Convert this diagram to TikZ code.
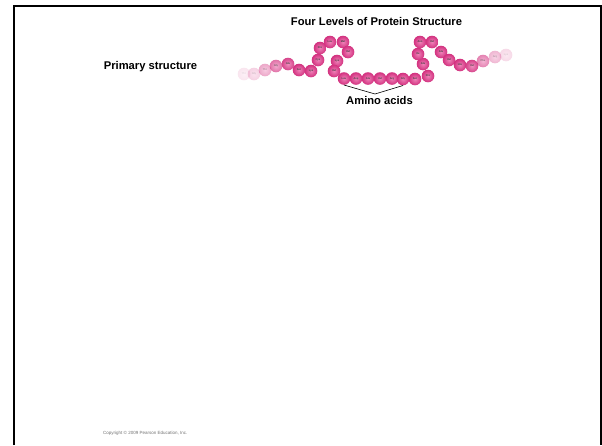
\documentclass[tikz,border=0pt]{standalone}
\usepackage{fontspec}
\setmainfont{Liberation Sans}
\begin{document}
\definecolor{beadpink}{RGB}{210,48,126}
\definecolor{beadlight}{RGB}{238,130,184}
\tikzset{
  heading/.style={font=\bfseries\fontsize{11.2}{13}\selectfont, inner sep=0pt},
  bead/.style={circle, minimum size=12.6pt, inner sep=0pt,
    inner color=beadlight, outer color=beadpink,
    font=\bfseries\fontsize{2.6}{3}\selectfont, text=black!75},
  fade/.style={opacity=#1, text opacity=#1},
  bracket/.style={draw=black, line width=0.6pt},
  frame/.style={draw=black, line width=2.6pt},
}
\begin{tikzpicture}[x=1pt, y=-1pt]
\useasboundingbox (0,0) rectangle (602,445);
\fill[white] (0,0) rectangle (602,445);
% slide frame, open at the bottom
\draw[frame] (14,445) -- (14,6) -- (601,6) -- (601,445);

\node[heading] (title) at (376.5,21) {Four Levels of Protein Structure};
\node[heading] (primary) at (150.5,67) {Primary structure};

% polypeptide chain, one bead per amino acid
\foreach \i/\x/\y/\aa/\o in {
  1/244/74/Thr/0.12, 2/254/74/Gly/0.22, 3/265/70/Thr/0.42,
  4/276/66/Gly/0.68, 5/288/64/Glu/0.9, 6/299/70/Ser/1,
  7/311/71/Lys/1, 8/318/60/Cys/1, 9/320/48/Pro/1,
  10/330/42/Leu/1, 11/343/42/Met/1, 12/348/52/Val/1,
  13/337/61/Lys/1, 14/334/71/Val/1, 15/344/78.5/Leu/1,
  16/356/78.5/Asp/1, 17/368/78.5/Ala/1, 18/380/78.5/Val/1,
  19/392/78.5/Arg/1, 20/403/79/Gly/1, 21/415/79/Ser/1,
  22/428/76/Pro/1, 23/423/64/Ala/1, 24/418/54/Ile/1,
  25/420/42/Asn/1, 26/432/42/Val/1, 27/441/52/Ala/1,
  28/449/60/Val/1, 29/460/65/His/1, 30/472/66/Val/0.9,
  31/483/61/Phe/0.6, 32/495/57/Arg/0.35, 33/506/55/Lys/0.18}
  \node[bead, fade=\o] (b\i) at (\x,\y) {\aa};

\node[heading] (amino) at (379.5,100.5) {Amino acids};
\coordinate (apex) at (375,94);
\draw[bracket] (b15.south) -- (apex) -- (b20.south);

\node[font=\fontsize{4.5}{5}\selectfont, text=black!55, anchor=west, inner sep=0pt]
  (copy) at (103,433) {Copyright © 2009 Pearson Education, Inc.};
\end{tikzpicture}
\end{document}
